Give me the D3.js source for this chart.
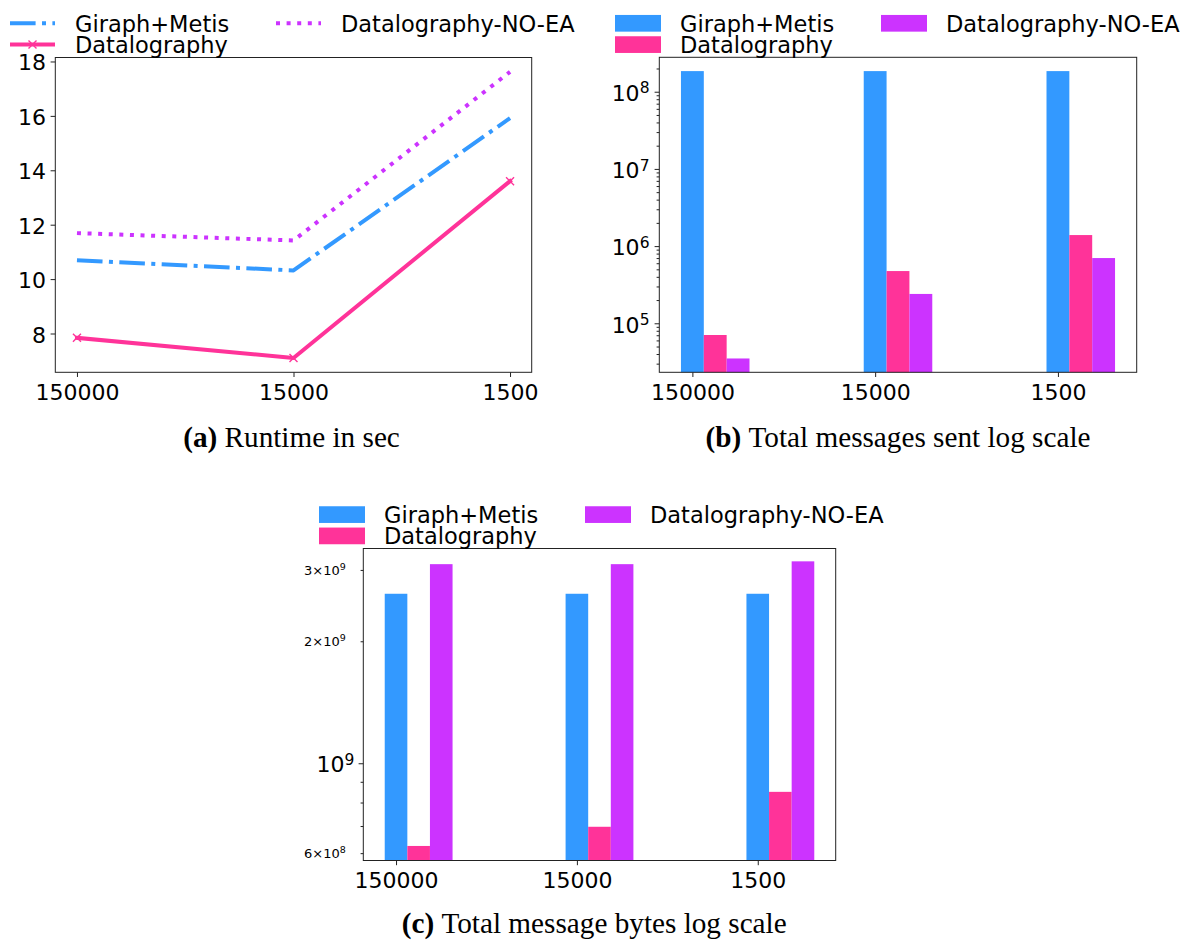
<!DOCTYPE html>
<html>
<head>
<meta charset="utf-8">
<script src="https://cdn.jsdelivr.net/npm/d3@7"></script>
<style>
  body { margin: 0; background: #ffffff; }
  svg { display: block; }
</style>
</head>
<body>
<svg id="fig" width="1183" height="941"></svg>
<script>
// ---- data ----
const categories = ["150000", "15000", "1500"];
const seriesNames = ["Giraph+Metis", "Datalography", "Datalography-NO-EA"];
const seriesColors = ["#3399ff", "#ff3399", "#cc33ff"];

// (a) runtime in seconds
const runtimeGiraph = [10.69, 10.32, 15.92];
const runtimeDatalography = [7.84, 7.10, 13.60];
const runtimeNoEA = [11.69, 11.42, 17.62];

// (b) total messages sent
const messagesGiraph = [1.85e8, 1.85e8, 1.85e8];
const messagesDatalography = [7.05e4, 4.75e5, 1.39e6];
const messagesNoEA = [3.5e4, 2.4e5, 7.0e5];

// (c) total message bytes
const bytesGiraph = [2.62e9, 2.62e9, 2.62e9];
const bytesDatalography = [6.25e8, 6.97e8, 8.5e8];
const bytesNoEA = [3.10e9, 3.10e9, 3.15e9];

// tick values
const runtimeTicks = [8, 10, 12, 14, 16, 18];
const messageTicks = [1e5, 1e6, 1e7, 1e8];
const bytesMajorTicks = [1e9];
const bytesMinorLabelled = [6e8, 2e9, 3e9];

const captions = [
  { tag: "(a)", text: "Runtime in sec" },
  { tag: "(b)", text: "Total messages sent log scale" },
  { tag: "(c)", text: "Total message bytes log scale" }
];

// ---- styling constants ----
const SANS = "'DejaVu Sans', 'Noto Sans', sans-serif";
const SERIF = "'Liberation Serif', 'DejaVu Serif', serif";
const INK = "#222";
const TICK = 4.7, MINOR = 2.7, PAD = 4.7;
const TICK_FONT = 22, LEGEND_FONT = 22.5;
const BAR_W = 0.125;
const LINE_W = 4;

const svg = d3.select("#fig").attr("font-family", SANS);

// log-scale minor tick values inside a domain
function logMinorTicks(domain) {
  const out = [];
  const e0 = Math.floor(Math.log10(domain[0])), e1 = Math.ceil(Math.log10(domain[1]));
  for (let e = e0; e <= e1; e++) {
    for (let k = 2; k <= 9; k++) {
      const v = k * Math.pow(10, e);
      if (v >= domain[0] && v <= domain[1]) out.push(v);
    }
  }
  return out;
}

function styleAxis(g) {
  g.select(".domain").remove();
  g.selectAll(".tick line").attr("stroke", INK).attr("stroke-width", 1);
  g.attr("font-family", SANS).attr("fill", "#000");
}

function drawFrame(g, box) {
  g.append("rect")
    .attr("x", box.left).attr("y", box.top)
    .attr("width", box.right - box.left).attr("height", box.bottom - box.top)
    .attr("fill", "none").attr("stroke", INK).attr("stroke-width", 1);
}

function categoryAxis(g, x, box) {
  const ax = g.append("g").attr("transform", `translate(0,${box.bottom})`)
    .call(d3.axisBottom(x).tickValues([0, 1, 2]).tickFormat(i => categories[i])
      .tickSize(TICK).tickPadding(PAD));
  styleAxis(ax);
  ax.selectAll("text").attr("y", 27.6).attr("dy", null)
    .attr("font-size", TICK_FONT).attr("fill", "#000");
}

// label like 10^8 or 3×10^9, right-aligned at x
function sciLabel(g, x, y, value, size, supSize, rise) {
  const e = Math.floor(Math.log10(value) + 1e-9);
  const mant = Math.round(value / Math.pow(10, e));
  const t = g.append("text").attr("x", x).attr("y", y)
    .attr("text-anchor", "end").attr("font-size", size).attr("fill", "#000");
  t.append("tspan").text(mant === 1 ? "10" : `${mant}\u00d710`);
  t.append("tspan").attr("font-size", supSize).attr("dy", -rise).text(String(e));
}

const lineStyles = [
  { dash: "25.6,6.4,4,6.4", marker: false },
  { dash: null, marker: true },
  { dash: "4,6.6", marker: false }
];
const xMarker = "M-4,-4L4,4M-4,4L4,-4";

function drawLegend(g, x0, yc, kind) {
  const rowGap = 21.3, colGap = 266;
  const slots = [[0, 0], [0, 1], [1, 0]];
  seriesNames.forEach((name, s) => {
    const cx = x0 + slots[s][0] * colGap;
    const cy = yc + slots[s][1] * rowGap;
    const item = g.append("g");
    if (kind === "line") {
      const ln = item.append("line")
        .attr("x1", cx).attr("x2", cx + 45).attr("y1", cy).attr("y2", cy)
        .attr("stroke", seriesColors[s]).attr("stroke-width", LINE_W);
      if (lineStyles[s].dash) ln.attr("stroke-dasharray", lineStyles[s].dash);
      if (lineStyles[s].marker) {
        item.append("path").attr("d", xMarker)
          .attr("transform", `translate(${cx + 22.5},${cy})`)
          .attr("stroke", seriesColors[s]).attr("stroke-width", 1.4).attr("fill", "none");
      }
    } else {
      item.append("rect").attr("x", cx).attr("y", cy - 8.35)
        .attr("width", 46).attr("height", 16.7).attr("fill", seriesColors[s]);
    }
    item.append("text").attr("x", cx + 65).attr("y", cy + 8.5)
      .attr("font-size", LEGEND_FONT).attr("fill", "#000").text(name);
  });
}

// ---- (a) runtime line chart ----
{
  const box = { left: 55.3, right: 531.7, top: 57.5, bottom: 372.3 };
  const g = svg.append("g");
  const x = d3.scaleLinear().domain([-0.1, 2.1]).range([box.left, box.right]);
  const all = runtimeGiraph.concat(runtimeDatalography, runtimeNoEA);
  const [lo, hi] = d3.extent(all);
  const m = (hi - lo) * 0.05;
  const y = d3.scaleLinear().domain([lo - m, hi + m]).range([box.bottom, box.top]);

  const line = d3.line().x((d, i) => x(i)).y(d => y(d));
  [runtimeGiraph, runtimeDatalography, runtimeNoEA].forEach((vals, s) => {
    const p = g.append("path").datum(vals).attr("d", line)
      .attr("fill", "none").attr("stroke", seriesColors[s])
      .attr("stroke-width", LINE_W).attr("stroke-linejoin", "round");
    if (lineStyles[s].dash) p.attr("stroke-dasharray", lineStyles[s].dash);
    else p.attr("stroke-linecap", "square");
    if (lineStyles[s].marker) {
      g.selectAll(null).data(vals).join("path")
        .attr("d", xMarker)
        .attr("transform", (d, i) => `translate(${x(i)},${y(d)})`)
        .attr("stroke", seriesColors[s]).attr("stroke-width", 1.4).attr("fill", "none");
    }
  });

  drawFrame(g, box);
  const ay = g.append("g").attr("transform", `translate(${box.left},0)`)
    .call(d3.axisLeft(y).tickValues(runtimeTicks).tickFormat(d3.format("d"))
      .tickSize(TICK).tickPadding(PAD));
  styleAxis(ay);
  ay.selectAll("text").attr("dy", null).attr("y", 8.5)
    .attr("font-size", TICK_FONT).attr("fill", "#000");
  categoryAxis(g, x, box);
  drawLegend(g, 10, 23.3, "line");
}

// ---- (b) messages sent, log bars ----
{
  const box = { left: 659.3, right: 1136.7, top: 57.3, bottom: 372.3 };
  const g = svg.append("g");
  const x = d3.scaleLinear().domain([-0.181, 2.431]).range([box.left, box.right]);
  const yDomain = [Math.pow(10, 4.365), Math.pow(10, 8.446)];
  const y = d3.scaleLog().domain(yDomain).range([box.bottom, box.top]);

  [messagesGiraph, messagesDatalography, messagesNoEA].forEach((vals, s) => {
    g.selectAll(null).data(vals).join("rect")
      .attr("x", (d, i) => x(i + s * BAR_W - BAR_W / 2))
      .attr("width", x(BAR_W) - x(0))
      .attr("y", d => y(d))
      .attr("height", d => box.bottom - y(d))
      .attr("fill", seriesColors[s]);
  });

  drawFrame(g, box);
  const minor = g.append("g").attr("transform", `translate(${box.left},0)`)
    .call(d3.axisLeft(y).tickValues(logMinorTicks(yDomain)).tickFormat("").tickSize(MINOR));
  styleAxis(minor);
  const major = g.append("g").attr("transform", `translate(${box.left},0)`)
    .call(d3.axisLeft(y).tickValues(messageTicks).tickFormat("").tickSize(TICK));
  styleAxis(major);
  messageTicks.forEach(v => sciLabel(g, box.left - 9.8, y(v) + 9.3, v, TICK_FONT, 15.5, 7.7));
  categoryAxis(g, x, box);
  drawLegend(g, 615, 23.3, "bar");
}

// ---- (c) message bytes, log bars ----
{
  const box = { left: 363.3, right: 835.7, top: 548.5, bottom: 860.5 };
  const g = svg.append("g");
  const x = d3.scaleLinear().domain([-0.181, 2.431]).range([box.left, box.right]);
  const yDomain = [Math.pow(10, 8.760), Math.pow(10, 9.530)];
  const y = d3.scaleLog().domain(yDomain).range([box.bottom, box.top]);

  [bytesGiraph, bytesDatalography, bytesNoEA].forEach((vals, s) => {
    g.selectAll(null).data(vals).join("rect")
      .attr("x", (d, i) => x(i + s * BAR_W - BAR_W / 2))
      .attr("width", x(BAR_W) - x(0))
      .attr("y", d => y(d))
      .attr("height", d => box.bottom - y(d))
      .attr("fill", seriesColors[s]);
  });

  drawFrame(g, box);
  const minor = g.append("g").attr("transform", `translate(${box.left},0)`)
    .call(d3.axisLeft(y).tickValues(logMinorTicks(yDomain)).tickFormat("").tickSize(MINOR));
  styleAxis(minor);
  const major = g.append("g").attr("transform", `translate(${box.left},0)`)
    .call(d3.axisLeft(y).tickValues(bytesMajorTicks).tickFormat("").tickSize(TICK));
  styleAxis(major);
  bytesMajorTicks.forEach(v => sciLabel(g, box.left - 9, y(v) + 9, v, TICK_FONT, 15.5, 7.7));
  bytesMinorLabelled.forEach(v => sciLabel(g, box.left - 17.5, y(v) + 5, v, 13, 9.5, 5));
  categoryAxis(g, x, box);
  drawLegend(g, 319, 514.6, "bar");
}

// ---- captions ----
{
  const spots = [
    { cx: 291.5, y: 447 },
    { cx: 898, y: 447 },
    { cx: 594.2, y: 933.3 }
  ];
  const g = svg.append("g").attr("font-family", SERIF).attr("fill", "#000");
  const texts = captions.map((c, i) => {
    const t = g.append("text").attr("x", spots[i].cx).attr("y", spots[i].y)
      .attr("text-anchor", "middle").attr("font-size", 24);
    t.append("tspan").attr("font-weight", "bold").text(c.tag);
    t.append("tspan").text("\u00a0" + c.text);
    return t;
  });
  // size the caption font so the (c) caption spans its measured width
  const w = texts[2].node().getComputedTextLength();
  const size = 24 * 385 / w;
  texts.forEach(t => t.attr("font-size", size));
}
</script>
</body>
</html>
